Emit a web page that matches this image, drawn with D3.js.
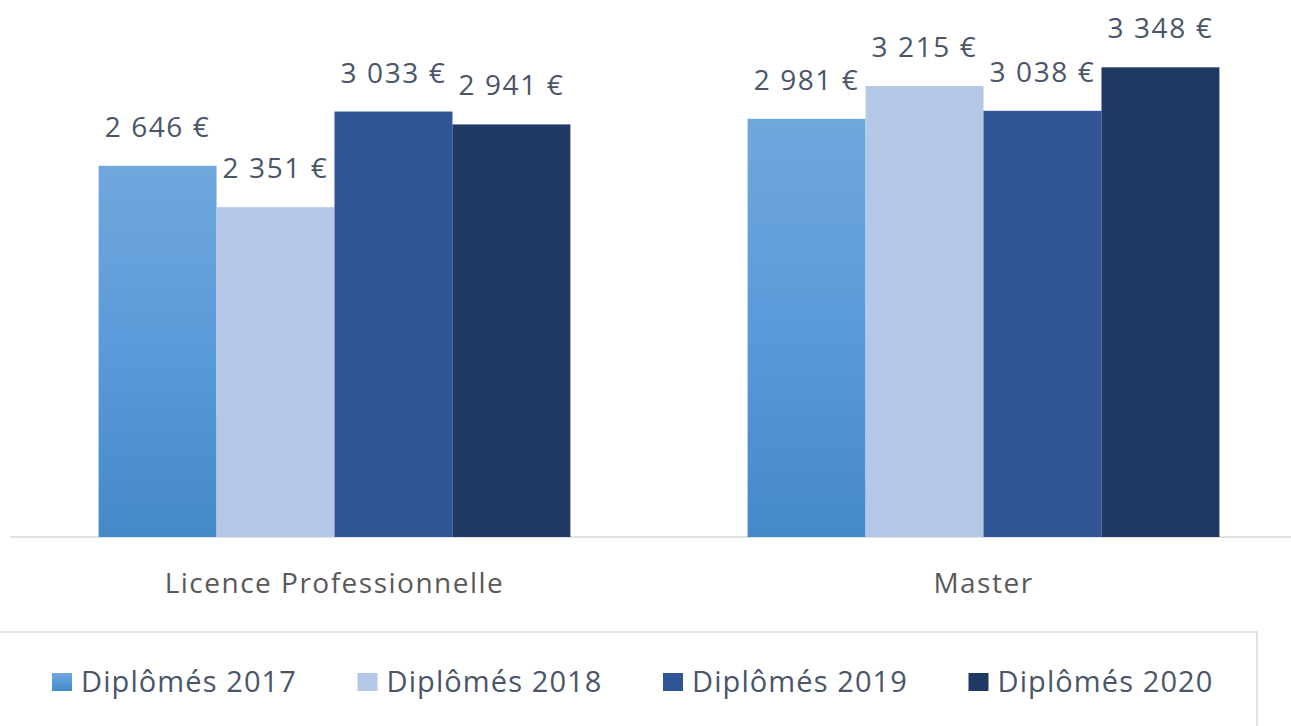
<!DOCTYPE html>
<html>
<head>
<meta charset="utf-8">
<script src="https://cdn.jsdelivr.net/npm/d3@7"></script>
<style>
  body { margin: 0; background: #fff; }
  svg { display: block; font-family: "Open Sans", "Noto Sans", sans-serif; }
  .value-label { fill: #4a5568; font-size: 28px; letter-spacing: 1.6px; }
  .cat-label { fill: #595959; font-size: 28px; letter-spacing: 1.5px; }
  .legend-label { fill: #4a5568; font-size: 29px; letter-spacing: 1.1px; }
</style>
</head>
<body>
<div id="chart"></div>
<script>
// Salaire moyen par diplôme et promotion
const categories = ['Licence Professionnelle', 'Master'];
const seriesNames = ['Diplômés 2017', 'Diplômés 2018', 'Diplômés 2019', 'Diplômés 2020'];
const licenceValues = [2646, 2351, 3033, 2941];
const masterValues = [2981, 3215, 3038, 3348];
const seriesColors = ['url(#grad2017)', '#b4c7e7', '#2f5597', '#203864'];

const width = 1291, height = 726;
const cfg = { baseline: 537, left: 10, right: 1308 };

const svg = d3.select('#chart').append('svg')
  .attr('width', width)
  .attr('height', height);

// gradient for the 2017 series
const grad = svg.append('defs').append('linearGradient')
  .attr('id', 'grad2017')
  .attr('x1', 0).attr('y1', 0).attr('x2', 0).attr('y2', 1);
grad.append('stop').attr('offset', '0%').attr('stop-color', '#70a7dd');
grad.append('stop').attr('offset', '50%').attr('stop-color', '#5a9ad9');
grad.append('stop').attr('offset', '100%').attr('stop-color', '#4489c8');

const x0 = d3.scaleBand()
  .domain(categories)
  .range([cfg.left, cfg.right])
  .paddingInner(0.273)
  .paddingOuter(0.1365);

const x1 = d3.scaleBand()
  .domain(seriesNames)
  .range([0, x0.bandwidth()]);

const y = d3.scaleLinear()
  .domain([0, 3828])
  .range([cfg.baseline, 0]);

const rows = categories.map((c, i) => ({
  cat: c,
  values: [licenceValues, masterValues][i]
}));

// baseline
svg.append('line')
  .attr('x1', cfg.left).attr('x2', width)
  .attr('y1', y(0)).attr('y2', y(0))
  .attr('stroke', '#d9d9d9').attr('stroke-width', 1.5);

const fmt = v => d3.format(',')(v).replace(',', ' ') + ' €';

const groups = svg.append('g').selectAll('g')
  .data(rows)
  .join('g')
  .attr('transform', d => `translate(${x0(d.cat)},0)`);

groups.selectAll('rect')
  .data(d => d.values.map((v, i) => ({ v, s: seriesNames[i], i })))
  .join('rect')
  .attr('x', d => x1(d.s))
  .attr('y', d => y(d.v))
  .attr('width', x1.bandwidth())
  .attr('height', d => y(0) - y(d.v))
  .attr('fill', d => seriesColors[d.i]);

groups.selectAll('text')
  .data(d => d.values.map((v, i) => ({ v, s: seriesNames[i] })))
  .join('text')
  .attr('class', 'value-label')
  .attr('x', d => x1(d.s) + x1.bandwidth() / 2)
  .attr('y', d => y(d.v) - 29)
  .attr('text-anchor', 'middle')
  .text(d => fmt(d.v));

// category axis labels
svg.append('g').selectAll('text')
  .data(categories)
  .join('text')
  .attr('class', 'cat-label')
  .attr('x', d => x0(d) + x0.bandwidth() / 2)
  .attr('y', 593)
  .attr('text-anchor', 'middle')
  .text(d => d);

// legend
svg.append('rect')
  .attr('x', -2).attr('y', 632)
  .attr('width', 1259).attr('height', 110)
  .attr('fill', 'none')
  .attr('stroke', '#d9d9d9').attr('stroke-width', 1.5);

const legend = svg.append('g').selectAll('g')
  .data(seriesNames)
  .join('g')
  .attr('transform', (d, i) => `translate(${52 + i * 305.5},673)`);

legend.append('rect')
  .attr('width', 20).attr('height', 18)
  .attr('fill', (d, i) => seriesColors[i]);

legend.append('text')
  .attr('class', 'legend-label')
  .attr('x', 29).attr('y', 19)
  .text(d => d);
</script>
</body>
</html>
